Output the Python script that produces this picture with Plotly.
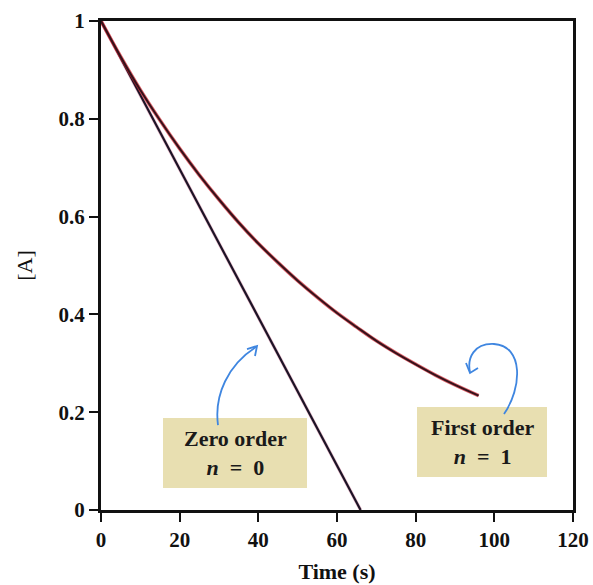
import plotly.graph_objects as go

# ---- data ----
zero_t = [0, 66]
zero_A = [1.0, 0.0]

first_t = [0, 5, 10, 15, 20, 25, 30, 35, 40, 45, 50, 55, 60, 65, 70, 75, 80, 85, 90, 96]
first_A = [1.000, 0.927, 0.859, 0.797, 0.739, 0.685, 0.635, 0.588, 0.545, 0.506,
           0.469, 0.435, 0.403, 0.374, 0.346, 0.321, 0.298, 0.276, 0.256, 0.234]

x_ticks = [0, 20, 40, 60, 80, 100, 120]
y_ticks = [0, 0.2, 0.4, 0.6, 0.8, 1]
y_ticktext = ["0", "0.2", "0.4", "0.6", "0.8", "1"]

labels = ["<b>Zero order</b><br><b><i>n</i>\u2002=\u20020</b>",
          "<b>First order</b><br><b><i>n</i>\u2002=\u20021</b>"]

# ---- layout geometry ----
W, H = 593, 585
L, R, T, B = 101, 20, 21, 75
X0, X1 = 0, 120
Y0, Y1 = 0, 1
pw = W - L - R
ph = H - T - B


def d(px, py):
    """pixel -> data coordinates (for decorations only)"""
    x = X0 + (px - L) / pw * (X1 - X0)
    y = Y0 + (H - B - py) / ph * (Y1 - Y0)
    return x, y


def path(cmds):
    out = []
    for c in cmds:
        if isinstance(c, str):
            out.append(c)
        else:
            x, y = d(*c)
            out.append(f"{x:.4f},{y:.4f}")
    return " ".join(out)


fig = go.Figure()

# zero order
fig.add_trace(go.Scatter(x=zero_t, y=zero_A, mode="lines",
                         line=dict(color="rgba(190,40,90,0.3)", width=3.4),
                         hoverinfo="skip", showlegend=False))
fig.add_trace(go.Scatter(x=zero_t, y=zero_A, mode="lines",
                         line=dict(color="#1c1426", width=2.2),
                         showlegend=False))
# first order
fig.add_trace(go.Scatter(x=first_t, y=first_A, mode="lines",
                         line=dict(color="rgba(205,30,40,0.7)", width=3.6, shape="spline"),
                         hoverinfo="skip", showlegend=False))
fig.add_trace(go.Scatter(x=first_t, y=first_A, mode="lines",
                         line=dict(color="#35121b", width=2.0, shape="spline"),
                         showlegend=False))

shapes = []
box_color = "#e8dfb1"
# label boxes
for (px0, py0, px1, py1) in [(163, 418, 307, 488), (417, 407, 547, 477)]:
    xa, ya = d(px0, py1)
    xb, yb = d(px1, py0)
    shapes.append(dict(type="rect", xref="x", yref="y", x0=xa, y0=ya, x1=xb, y1=yb,
                       fillcolor=box_color, line=dict(width=0), layer="below"))

arrow_col = "#3f86e0"
# zero-order arrow
shapes.append(dict(type="path", xref="x", yref="y",
                   path=path(["M", (218, 425), "C", (214, 395), (228, 365), (256, 347)]),
                   line=dict(color=arrow_col, width=1.8)))
shapes.append(dict(type="path", xref="x", yref="y",
                   path=path(["M", (247, 349), "L", (257, 346), "L", (255, 356)]),
                   line=dict(color=arrow_col, width=1.8)))
# first-order arrow
shapes.append(dict(type="path", xref="x", yref="y",
                   path=path(["M", (504, 414), "C", (522, 388), (524, 346), (494, 344),
                              "C", (474, 343), (467, 358), (470, 372)]),
                   line=dict(color=arrow_col, width=1.8)))
shapes.append(dict(type="path", xref="x", yref="y",
                   path=path(["M", (466, 363), "L", (470, 373), "L", (478, 368)]),
                   line=dict(color=arrow_col, width=1.8)))

annotations = []
for (cx, cy), txt in zip([(235, 453), (482, 442)], labels):
    x, y = d(cx, cy)
    annotations.append(dict(x=x, y=y, xref="x", yref="y", text=txt, showarrow=False,
                            font=dict(family="Liberation Serif", size=22, color="#1a1a1a"),
                            align="center", xanchor="center", yanchor="middle"))

fig.update_layout(
    width=W, height=H,
    margin=dict(l=L, r=R, t=T, b=B, pad=0, autoexpand=False),
    paper_bgcolor="white", plot_bgcolor="white",
    font=dict(family="Liberation Serif", color="#111111"),
    shapes=shapes, annotations=annotations,
    xaxis=dict(range=[X0, X1], tickvals=x_ticks, ticks="outside", ticklen=9, tickwidth=2,
               tickcolor="#111", showline=True, linewidth=3, linecolor="#111", mirror=True,
               showgrid=False, zeroline=False, automargin=False,
               tickfont=dict(family="Liberation Serif", size=21, color="#111", weight="bold"),
               title=dict(text="Time (s)", standoff=13,
                          font=dict(family="Liberation Serif", size=22, color="#111", weight="bold"))),
    yaxis=dict(range=[Y0, Y1], tickvals=y_ticks, ticktext=y_ticktext, ticks="outside", ticklen=9,
               tickwidth=2, tickcolor="#111", showline=True, linewidth=3, linecolor="#111",
               mirror=True, showgrid=False, zeroline=False, automargin=False,
               tickfont=dict(family="Liberation Serif", size=21, color="#111", weight="bold"),
               title=dict(text="[A]", standoff=20,
                          font=dict(family="Liberation Serif", size=22, color="#111"))),
)

fig.write_html("out.html", config={"displayModeBar": False},
               post_script="document.body.style.margin='0';document.body.style.overflow='hidden';")
